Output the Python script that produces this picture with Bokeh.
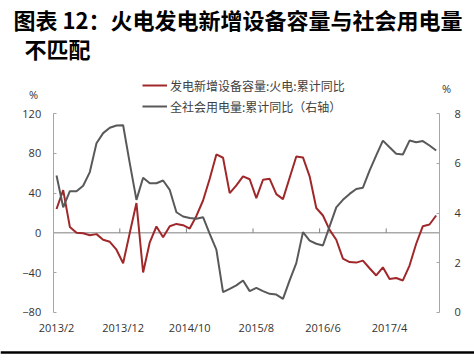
from bokeh.plotting import figure
from bokeh.models import (LinearAxis, Range1d, FixedTicker, Label, Legend, LegendItem,
                          BoxAnnotation, ColumnDataSource)
from bokeh.embed import file_html
from bokeh.resources import INLINE

# ---------------- data ----------------
months = [
    "2013/2", "2013/3", "2013/4", "2013/5", "2013/6", "2013/7", "2013/8", "2013/9", "2013/10", "2013/11",
    "2013/12", "2014/1", "2014/2", "2014/3", "2014/4", "2014/5", "2014/6", "2014/7", "2014/8", "2014/9",
    "2014/10", "2014/11", "2014/12", "2015/1", "2015/2", "2015/3", "2015/4", "2015/5", "2015/6", "2015/7",
    "2015/8", "2015/9", "2015/10", "2015/11", "2015/12", "2016/1", "2016/2", "2016/3", "2016/4", "2016/5",
    "2016/6", "2016/7", "2016/8", "2016/9", "2016/10", "2016/11", "2016/12", "2017/1", "2017/2", "2017/3",
    "2017/4", "2017/5", "2017/6", "2017/7", "2017/8", "2017/9", "2017/10", "2017/11",
]
thermal_new_capacity_yoy = [
    24, 43, 6, 0, -0.5, -2.4, -1.3, -7, -9, -17,
    -30.7, 0, 30, -40, -9.5, 6.4, -4.4, 6.7, 9, 7.7,
    4.3, 17, 32.6, 54.5, 79, 75.7, 40, 47.8, 57, 54,
    35, 53.5, 54.5, 39, 34, 55.5, 77, 76, 57, 25,
    17.5, 3, -7, -26, -29.5, -30, -28, -35.7, -43, -34.7,
    -46.5, -45.5, -48, -33, -11, 6.7, 8.4, 17.5,
]
power_use_yoy = [
    5.51, 4.23, 4.88, 4.88, 5.1, 5.65, 6.81, 7.22, 7.44, 7.53,
    7.54, 6.0, 4.53, 5.42, 5.2, 5.2, 5.31, 4.93, 4.03, 3.86,
    3.8, 3.77, 3.83, 3.16, 2.52, 0.81, 0.94, 1.08, 1.28, 0.85,
    0.98, 0.85, 0.74, 0.71, 0.54, 1.28, 1.98, 3.23, 2.89, 2.76,
    2.69, 3.46, 4.23, 4.53, 4.77, 4.97, 5.02, 5.71, 6.32, 6.92,
    6.65, 6.39, 6.36, 6.92, 6.85, 6.9, 6.72, 6.52,
]
tick_labels = ["2013/2", "2013/12", "2014/10", "2015/8", "2016/6", "2017/4"]
left_ticks = [-80, -40, 0, 40, 80, 120]
right_ticks = [0, 2, 4, 6, 8]
series_names = ["发电新增设备容量:火电:累计同比", "全社会用电量:累计同比（右轴）"]
title_line1 = "图表 12：火电发电新增设备容量与社会用电量"
title_line2 = "不匹配"
unit_label = "%"

# ---------------- layout constants (pixels) ----------------
W, H = 474, 361
PLOT_L, PLOT_R = 52.7, 439.0      # plot area left / right edges
PLOT_T, PLOT_B = 113.3, 311.7     # plot area top / bottom edges

RED = "#A0282A"
GRAY = "#595959"
AXIS = "#A6A6A6"
TXT = "#333333"
NUM_FONT = "Open Sans"
CJK = "Noto Sans CJK SC"

# whole canvas is the frame; map the plot area onto it
n = len(months)
xpx = (PLOT_R - PLOT_L) / n
x0 = -0.5 - PLOT_L / xpx
x1 = n - 0.5 + (W - PLOT_R) / xpx
lo, hi = left_ticks[0], left_ticks[-1]
ypx = (PLOT_B - PLOT_T) / (hi - lo)
y0 = lo - (H - PLOT_B) / ypx
y1 = hi + PLOT_T / ypx
rlo, rhi = right_ticks[0], right_ticks[-1]
rpx = (PLOT_B - PLOT_T) / (rhi - rlo)
r0 = rlo - (H - PLOT_B) / rpx
r1 = rhi + PLOT_T / rpx

idx = list(range(n))
src = ColumnDataSource(dict(x=idx, red=thermal_new_capacity_yoy, gray=power_use_yoy))

p = figure(width=W, height=H, output_backend="svg", toolbar_location=None, title=None,
           x_range=Range1d(x0, x1), y_range=Range1d(y0, y1),
           x_axis_location=None, y_axis_location=None, min_border=0)
p.extra_y_ranges = {"r": Range1d(r0, r1)}
p.outline_line_color = None
p.xgrid.visible = False
p.ygrid.visible = False
p.background_fill_color = "white"
p.border_fill_color = "white"

tick_idx = [months.index(t) for t in tick_labels]

# x axis (labels only) fixed at the bottom of the plot area
xa = LinearAxis(fixed_location=lo, ticker=FixedTicker(ticks=tick_idx),
                major_label_overrides={i: months[i] for i in tick_idx})
xa.axis_line_color = None
xa.major_tick_line_color = None
xa.minor_tick_line_color = None
xa.major_tick_out = 0
xa.major_tick_in = 0
xa.major_label_standoff = 8
xa.major_label_text_font = NUM_FONT
xa.major_label_text_font_size = "11px"
xa.major_label_text_color = TXT
p.add_layout(xa, "below")

ya = LinearAxis(fixed_location=-0.5, bounds=(lo, hi), ticker=FixedTicker(ticks=left_ticks))
ya.axis_line_color = AXIS
ya.major_tick_line_color = AXIS
ya.minor_tick_line_color = None
ya.major_tick_in = 3
ya.major_tick_out = 0
ya.major_label_standoff = 12
ya.major_label_text_font = NUM_FONT
ya.major_label_text_font_size = "11px"
ya.major_label_text_color = TXT
p.add_layout(ya, "left")

ra = LinearAxis(y_range_name="r", fixed_location=n - 0.5, bounds=(rlo, rhi),
                ticker=FixedTicker(ticks=right_ticks))
ra.axis_line_color = AXIS
ra.major_tick_line_color = AXIS
ra.minor_tick_line_color = None
ra.major_tick_in = 3
ra.major_tick_out = 0
ra.major_label_standoff = 15
ra.major_label_text_font = NUM_FONT
ra.major_label_text_font_size = "11px"
ra.major_label_text_color = TXT
p.add_layout(ra, "right")

# zero line with category-boundary ticks
p.segment(x0=[-0.5], y0=[0], x1=[n - 0.5], y1=[0], line_color="#808080", line_width=1)
bounds = [i - 0.5 for i in tick_idx[1:]]
p.segment(x0=bounds, y0=[0] * len(bounds), x1=bounds, y1=[4.5] * len(bounds),
          line_color="#808080", line_width=1)

r_red = p.line("x", "red", source=src, line_color=RED, line_width=2)
r_gray = p.line("x", "gray", source=src, y_range_name="r", line_color=GRAY, line_width=2)

legend = Legend(items=[LegendItem(label=series_names[0], renderers=[r_red]),
                       LegendItem(label=series_names[1], renderers=[r_gray])],
                location=(142, H - 116), orientation="vertical", padding=0, margin=0, spacing=1,
                glyph_width=25, glyph_height=20, label_height=20, label_standoff=3,
                label_text_font=CJK, label_text_font_size="12px", label_text_color="#404040",
                background_fill_alpha=0, border_line_color=None)
p.add_layout(legend)

def top_label(x, y, text, **kw):
    p.add_layout(Label(x=x, y=H - y, x_units="screen", y_units="screen", text=text,
                       text_baseline="middle", **kw))

top_label(13, 18, title_line1, text_font=CJK, text_font_style="bold",
          text_font_size="22px", text_color="black")
top_label(24, 47, title_line2, text_font=CJK, text_font_style="bold",
          text_font_size="22px", text_color="black")
top_label(33, 94, unit_label, text_font=NUM_FONT, text_font_size="11px",
          text_color=TXT, text_align="center")
top_label(446, 88, unit_label, text_font=NUM_FONT, text_font_size="11px",
          text_color=TXT, text_align="center")

# thick bottom rule
p.add_layout(BoxAnnotation(left=0, right=W, bottom=H - 353.3, top=H - 350.7,
                           left_units="screen", right_units="screen",
                           bottom_units="screen", top_units="screen",
                           fill_color="black", fill_alpha=1, line_color=None))

open("out.html", "w").write(file_html(p, INLINE))
